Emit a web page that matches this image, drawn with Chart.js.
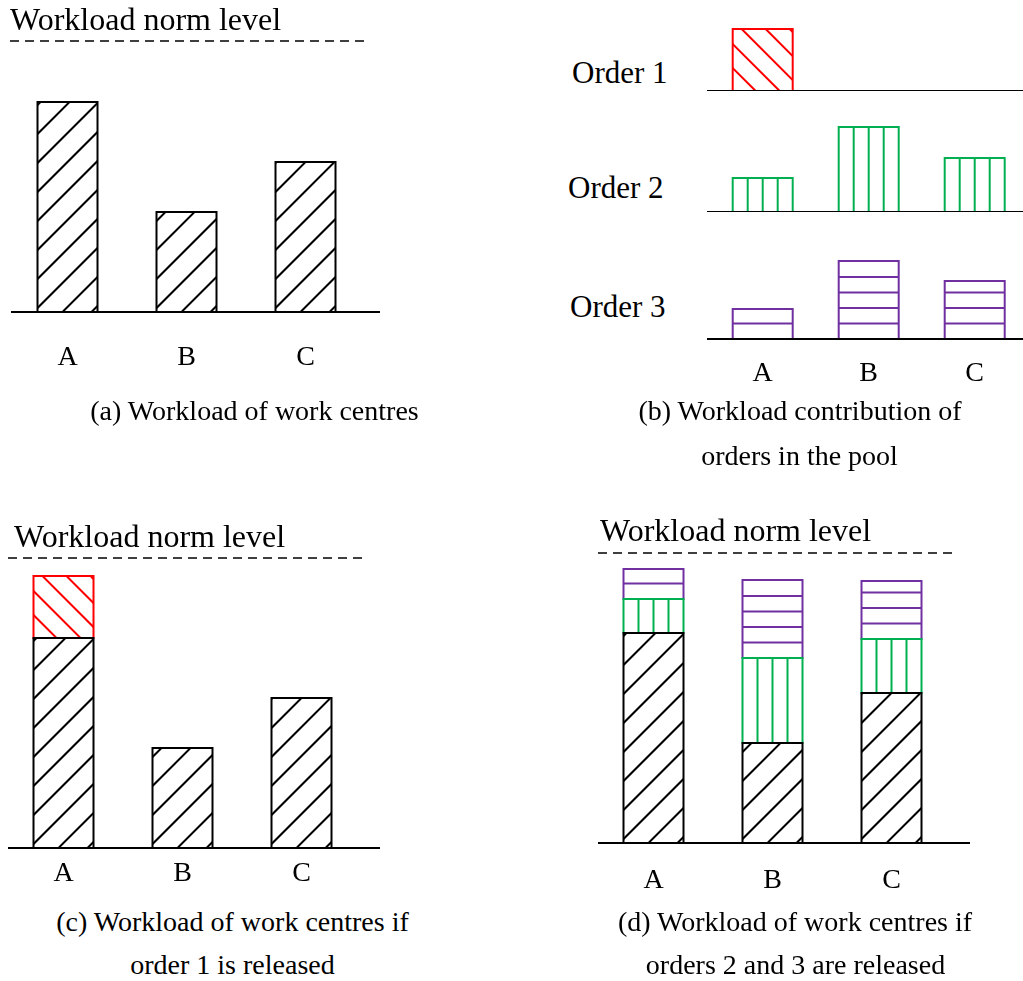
<!DOCTYPE html>
<html>
<head>
<meta charset="utf-8">
<script src="https://cdn.jsdelivr.net/npm/chart.js@4.4.1/dist/chart.umd.min.js"></script>
<style>
  html, body { margin: 0; padding: 0; background: #fff; overflow: hidden; width: 1023px; height: 981px; }
  .box { position: absolute; }
  .t { position: absolute; font-family: 'Liberation Serif', 'Times New Roman', serif; font-size: 28px;
       line-height: 28px; color: #000; white-space: nowrap; }
  .c { width: 600px; text-align: center; }
  .n { font-size: 32px; }
  .o { font-size: 31px; }
</style>
</head>
<body>
<div class="box" id="bA" style="left:0px;top:0px;width:390px;height:403px"><canvas id="cA"></canvas></div>
<div class="box" id="bB1" style="left:700px;top:0px;width:330px;height:91px"><canvas id="cB1"></canvas></div>
<div class="box" id="bB2" style="left:700px;top:100px;width:330px;height:112px"><canvas id="cB2"></canvas></div>
<div class="box" id="bB3" style="left:700px;top:240px;width:330px;height:168px"><canvas id="cB3"></canvas></div>
<div class="box" id="bC" style="left:0px;top:500px;width:390px;height:399px"><canvas id="cC"></canvas></div>
<div class="box" id="bD" style="left:580px;top:500px;width:420px;height:418px"><canvas id="cD"></canvas></div>

<div class="t n" style="left:10px;top:5.2px">Workload norm level</div>
<div class="t n" style="left:14px;top:522.2px">Workload norm level</div>
<div class="t n" style="left:600px;top:516.2px">Workload norm level</div>

<div class="t o" style="left:572px;top:58.5px">Order 1</div>
<div class="t o" style="left:568px;top:173.5px">Order 2</div>
<div class="t o" style="left:570px;top:292.5px">Order 3</div>

<div class="t c" style="left:-45.5px;top:396.5px">(a) Workload of work centres</div>
<div class="t c" style="left:500px;top:396.5px">(b) Workload contribution of</div>
<div class="t c" style="left:499.5px;top:441.5px">orders in the pool</div>
<div class="t c" style="left:-67.5px;top:907.5px">(c) Workload of work centres if</div>
<div class="t c" style="left:-67.5px;top:950.5px">order 1 is released</div>
<div class="t c" style="left:495px;top:907.5px">(d) Workload of work centres if</div>
<div class="t c" style="left:495.5px;top:950.5px">orders 2 and 3 are released</div>

<script>
// ---- data (workload units) ----
const categories = ['A', 'B', 'C'];
const baseWorkload = [210, 100, 150];   // current workload of work centres
const order1 = [62, 0, 0];              // workload contribution of order 1
const order2 = [34, 85, 54];            // workload contribution of order 2
const order3 = [30, 78, 58];            // workload contribution of order 3
const normLevelA = 271;                 // norm level as drawn in panel (a)
const normLevelC = 290;                 // norm level as drawn in panel (c)
const normLevelD = 290;                 // norm level as drawn in panel (d)

const FONT = "'Liberation Serif', 'Times New Roman', serif";
const STYLE = {
  base:   { hatch: 'slash',    color: '#000000' },
  order1: { hatch: 'back',     color: '#ff0000' },
  order2: { hatch: 'vertical', color: '#00b050' },
  order3: { hatch: 'horiz',    color: '#7030a0' }
};

function ds(label, data, style) {
  return {
    label, data,
    hatch: style.hatch, lineColor: style.color,
    backgroundColor: 'rgba(0,0,0,0)', borderWidth: 0,
    barThickness: 60
  };
}

const sketchPlugin = {
  id: 'sketch',
  afterDatasetsDraw(chart, args, opts) {
    const ctx = chart.ctx;
    const ys = chart.scales.y;
    const dsets = chart.data.datasets;
    for (let di = dsets.length - 1; di >= 0; di--) {
      const d = dsets[di];
      const meta = chart.getDatasetMeta(di);
      meta.data.forEach(el => {
        const p = el.getProps(['x', 'y', 'base', 'width'], true);
        const left = p.x - p.width / 2, w = p.width;
        const top = Math.min(p.y, p.base), bottom = Math.max(p.y, p.base);
        const h = bottom - top;
        if (h < 1) return;
        ctx.save();
        ctx.beginPath(); ctx.rect(left, top, w, h); ctx.clip();
        ctx.strokeStyle = d.lineColor;
        ctx.lineWidth = 2;
        ctx.beginPath();
        if (d.hatch === 'slash') {
          for (let c = 25 - 29 * 20; c < w; c += 29) {
            if (c + h < 0) continue;
            ctx.moveTo(left + c, bottom); ctx.lineTo(left + c + h, top);
          }
        } else if (d.hatch === 'back') {
          for (let c = 9 - 24 * 10; c < w; c += 24) {
            if (c + h < 0) continue;
            ctx.moveTo(left + c, top); ctx.lineTo(left + c + h, bottom);
          }
        } else if (d.hatch === 'vertical') {
          for (let k = 1; k < 4; k++) {
            const xx = left + w * k / 4;
            ctx.moveTo(xx, top); ctx.lineTo(xx, bottom);
          }
        } else if (d.hatch === 'horiz') {
          for (let yy = bottom - 15.5; yy > top + 4; yy -= 15.5) {
            ctx.moveTo(left, yy); ctx.lineTo(left + w, yy);
          }
        }
        ctx.stroke();
        ctx.restore();
        ctx.save();
        ctx.strokeStyle = d.lineColor;
        ctx.lineWidth = 2;
        ctx.strokeRect(left, top, w, h);
        ctx.restore();
      });
    }
    // baseline
    const y0 = ys.getPixelForValue(0);
    ctx.save();
    ctx.strokeStyle = '#000'; ctx.lineWidth = 2;
    ctx.beginPath(); ctx.moveTo(opts.base[0], y0); ctx.lineTo(opts.base[1], y0); ctx.stroke();
    // norm level
    if (opts.norm != null) {
      const yn = ys.getPixelForValue(opts.norm);
      ctx.lineWidth = 1.5;
      ctx.setLineDash([9, 6]);
      ctx.beginPath(); ctx.moveTo(opts.normX[0], yn); ctx.lineTo(opts.normX[1], yn); ctx.stroke();
    }
    ctx.restore();
  }
};

function makeChart(id, datasets, o) {
  return new Chart(document.getElementById(id), {
    type: 'bar',
    data: { labels: categories, datasets },
    plugins: [sketchPlugin],
    options: {
      responsive: true, maintainAspectRatio: false, animation: false,
      events: [],
      layout: { padding: { left: o.padL, right: o.padR, top: 0, bottom: 0 } },
      plugins: {
        legend: { display: false }, tooltip: { enabled: false }, title: { display: false },
        sketch: { base: o.base, norm: o.norm, normX: o.normX }
      },
      scales: {
        x: {
          display: o.showX, stacked: true, offset: true,
          grid: { display: false, drawTicks: false }, border: { display: false },
          ticks: { color: '#000', padding: o.tickPad, font: { family: FONT, size: 28, lineHeight: 1.25 } }
        },
        y: { display: false, stacked: true, min: 0, max: o.ymax }
      }
    }
  });
}

makeChart('cA', [ds('Workload', baseWorkload, STYLE.base)],
  { padL: 8, padR: 25, ymax: 312, showX: true, tickPad: 28, base: [11, 380], norm: normLevelA, normX: [10, 368] });

makeChart('cB1', [ds('Order 1', order1, STYLE.order1)],
  { padL: 9.7, padR: 2.3, ymax: 91, showX: false, tickPad: 0, base: [7, 323] });
makeChart('cB2', [ds('Order 2', order2, STYLE.order2)],
  { padL: 9.7, padR: 2.3, ymax: 112, showX: false, tickPad: 0, base: [7, 323] });
makeChart('cB3', [ds('Order 3', order3, STYLE.order3)],
  { padL: 9.7, padR: 2.3, ymax: 99, showX: true, tickPad: 17, base: [7, 323] });

makeChart('cC', [ds('Workload', baseWorkload, STYLE.base), ds('Order 1', order1, STYLE.order1)],
  { padL: 4, padR: 29, ymax: 348, showX: true, tickPad: 8, base: [8, 380], norm: normLevelC, normX: [8, 365] });

makeChart('cD', [ds('Workload', baseWorkload, STYLE.base), ds('Order 2', order2, STYLE.order2), ds('Order 3', order3, STYLE.order3)],
  { padL: 14, padR: 49, ymax: 343, showX: true, tickPad: 20, base: [18, 390], norm: normLevelD, normX: [18, 375] });
</script>
</body>
</html>
